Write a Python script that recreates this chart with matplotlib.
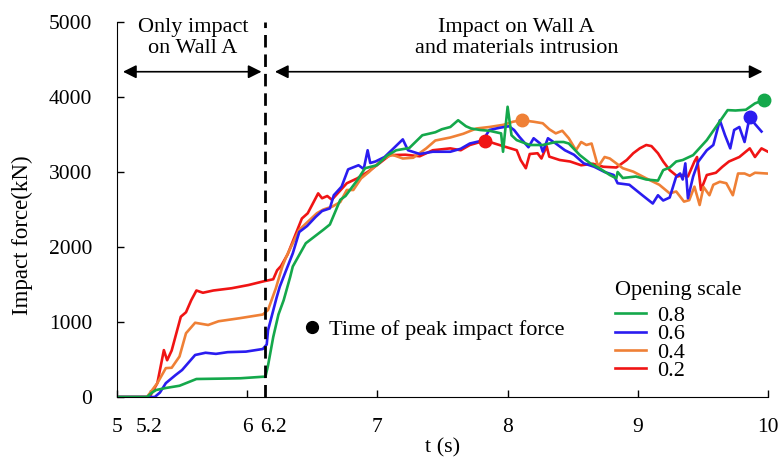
import matplotlib
matplotlib.use("Agg")
import matplotlib.pyplot as plt
from matplotlib.lines import Line2D

plt.rcParams["font.family"] = ["Liberation Serif", "DejaVu Serif"]
plt.rcParams["font.size"] = 15.5

# Opening scale 0.8
t_08 = [5.0, 5.23, 5.27, 5.30, 5.375, 5.48, 5.61, 5.8, 5.95, 6.12, 6.14, 6.16, 6.2, 6.24, 6.28,
        6.33, 6.35, 6.45, 6.585, 6.635, 6.715, 6.755, 6.845, 6.905, 6.995, 7.075, 7.145, 7.245,
        7.345, 7.445, 7.495, 7.56, 7.62, 7.68, 7.72, 7.79, 7.86, 7.95, 7.965, 8.0, 8.03, 8.07,
        8.17, 8.27, 8.37, 8.43, 8.47, 8.555, 8.635, 8.705, 8.785, 8.835, 8.845, 8.885, 8.985,
        9.065, 9.155, 9.195, 9.245, 9.295, 9.345, 9.425, 9.53, 9.6, 9.69, 9.75, 9.83, 9.9, 9.97]
f_08 = [0, 0, 60, 93, 120, 150, 240, 245, 250, 270, 270, 420, 800, 1100, 1290,
        1600, 1740, 2050, 2230, 2300, 2630, 2680, 2890, 3050, 3090, 3220, 3290, 3320,
        3490, 3530, 3570, 3600, 3690, 3610, 3580, 3560, 3550, 3515, 3270, 3870, 3490, 3425,
        3360, 3360, 3400, 3400, 3380, 3225, 3115, 3050, 2960, 2915, 3000, 2920, 2940,
        2900, 2885, 3025, 3060, 3140, 3160, 3225, 3425, 3600, 3825, 3820, 3830, 3915, 3960]

# Opening scale 0.6
t_06 = [5.0, 5.29, 5.33, 5.375, 5.45, 5.50, 5.60, 5.68, 5.76, 5.85, 5.99, 6.12, 6.15, 6.16,
        6.225, 6.25, 6.29, 6.35, 6.40, 6.46, 6.525, 6.575, 6.635, 6.665, 6.725, 6.775, 6.855,
        6.895, 6.925, 6.945, 6.985, 7.055, 7.115, 7.195, 7.235, 7.325, 7.425, 7.56, 7.64, 7.71,
        7.81, 7.86, 7.94, 8.01, 8.05, 8.09, 8.16, 8.2, 8.25, 8.27, 8.31, 8.37, 8.44, 8.51,
        8.585, 8.665, 8.745, 8.815, 8.845, 8.935, 9.035, 9.115, 9.155, 9.195, 9.245, 9.295,
        9.325, 9.345, 9.365, 9.385, 9.425, 9.465, 9.53, 9.58, 9.63, 9.67, 9.71, 9.74, 9.78,
        9.82, 9.86, 9.9, 9.95]
f_06 = [0, 0, 60, 185, 293, 360, 560, 590, 575, 598, 605, 640, 700, 890,
        1320, 1470, 1650, 1915, 2200, 2280, 2400, 2480, 2515, 2690, 2805, 3035, 3090,
        3040, 3290, 3120, 3140, 3200, 3300, 3435, 3290, 3240, 3270, 3270, 3310, 3380,
        3420, 3560, 3590, 3610, 3560, 3470, 3330, 3450, 3380, 3270, 3450, 3380, 3290, 3230,
        3115, 3070, 3000, 2960, 2850, 2830, 2690, 2580, 2690, 2620, 2660, 2940,
        2980, 2900, 3115, 2650, 2940, 3140, 3290, 3360, 3690, 3490, 3315, 3560, 3600,
        3400, 3740, 3640, 3540]

# Opening scale 0.4
t_04 = [5.0, 5.23, 5.31, 5.375, 5.42, 5.48, 5.53, 5.60, 5.70, 5.78, 5.94, 6.12, 6.16, 6.22,
        6.27, 6.30, 6.40, 6.535, 6.585, 6.655, 6.715, 6.765, 6.815, 6.875, 6.935, 7.045, 7.115,
        7.195, 7.275, 7.375, 7.445, 7.56, 7.66, 7.76, 7.86, 7.97, 8.04, 8.11, 8.2, 8.27, 8.32,
        8.37, 8.42, 8.47, 8.525, 8.565, 8.605, 8.645, 8.695, 8.745, 8.785, 8.835, 8.885, 8.965,
        9.065, 9.165, 9.245, 9.295, 9.355, 9.395, 9.435, 9.475, 9.505, 9.55, 9.58, 9.63, 9.68,
        9.73, 9.77, 9.82, 9.86, 9.9, 9.99]
f_04 = [0, 0, 185, 385, 390, 540, 850, 990, 960, 1010, 1050, 1100, 1160, 1450,
        1740, 1870, 2230, 2450, 2500, 2540, 2600, 2760, 2760, 2915, 3000, 3180, 3230,
        3180, 3190, 3315, 3420, 3460, 3510, 3580, 3600, 3630, 3670, 3690, 3670, 3650, 3570,
        3515, 3550, 3450, 3290, 3400, 3360, 3380, 3070, 3200, 3180, 3115, 3050, 3005,
        2915, 2830, 2715, 2740, 2605, 2625, 2805, 2560, 2800, 2690, 2830, 2870, 2850,
        2690, 2980, 2980, 2950, 2990, 2980]

# Opening scale 0.2
t_02 = [5.0, 5.25, 5.31, 5.36, 5.385, 5.42, 5.49, 5.53, 5.57, 5.61, 5.66, 5.74, 5.88, 6.01,
        6.12, 6.2, 6.23, 6.26, 6.31, 6.42, 6.465, 6.545, 6.575, 6.615, 6.65, 6.765, 6.845,
        6.925, 7.015, 7.095, 7.215, 7.325, 7.425, 7.56, 7.64, 7.71, 7.83, 7.9, 7.965, 8.07,
        8.1, 8.14, 8.17, 8.23, 8.26, 8.3, 8.32, 8.4, 8.48, 8.565, 8.655, 8.735, 8.835, 8.915,
        8.965, 9.015, 9.065, 9.105, 9.155, 9.195, 9.245, 9.305, 9.345, 9.385, 9.435, 9.455,
        9.485, 9.53, 9.6, 9.65, 9.7, 9.78, 9.86, 9.9, 9.95, 10.0]
f_02 = [0, 0, 185, 625, 490, 620, 1070, 1130, 1290, 1420, 1390, 1420, 1450, 1493,
        1540, 1570, 1690, 1747, 1900, 2380, 2450, 2715, 2650, 2680, 2630, 2850, 2915,
        3000, 3115, 3225, 3230, 3210, 3290, 3315, 3290, 3360, 3420, 3380, 3345, 3290,
        3160, 3050, 3240, 3250, 3180, 3345, 3205, 3160, 3140, 3090, 3110, 3070, 3060, 3160,
        3250, 3315, 3360, 3345, 3250, 3140, 3025, 2940, 2960, 2940, 3140, 3200,
        2760, 2960, 2990, 3070, 3140, 3200, 3315, 3200, 3315, 3270]

labels = ["0.8", "0.6", "0.4", "0.2"]
colors = ["#14a84b", "#2a1cf0", "#ef8036", "#f01414"]
times = [t_08, t_06, t_04, t_02]
forces = [f_08, f_06, f_04, f_02]

# time of peak impact force
peak_t = [9.97, 9.86, 8.11, 7.83]
peak_f = [3960, 3740, 3690, 3420]

t_split = 6.14
xticks = [5, 5.25, 6, 6.2, 7, 8, 9, 10]
xticklabels = ["5", "5.2", "6", "6.2", "7", "8", "9", "10"]

fig = plt.figure(figsize=(7.8, 4.57), dpi=100)
ax = fig.add_axes([117 / 780, 60 / 457, 651 / 780, 375 / 457])

for t, f, c in zip(times[::-1], forces[::-1], colors[::-1]):
    ax.plot(t, f, color=c, lw=1.9)
handles = [Line2D([], [], color=c, lw=1.9, label=lab) for c, lab in zip(colors, labels)]
for pt, pf, c in zip(peak_t, peak_f, colors):
    ax.plot(pt, pf, "o", color=c, ms=9, zorder=5, clip_on=False)

ax.axvline(t_split, color="black", lw=2, ls=(0, (4.5, 2.5)), zorder=6)

ax.set_xlim(5, 10)
ax.set_ylim(0, 5000)
ax.set_xticks(xticks)
ax.set_xticklabels(xticklabels)
ax.xaxis.get_major_ticks()[3].tick1line.set_visible(False)
ax.set_yticks(range(0, 5001, 1000))
ax.tick_params(direction="in", length=5, width=1, labelsize=15.5)
ax.tick_params(axis="y", pad=18)
ax.tick_params(axis="x", pad=15)
for s in ["top", "right"]:
    ax.spines[s].set_visible(False)
ax.set_xlabel("t (s)", fontsize=16, labelpad=1)
ax.set_ylabel("Impact force(kN)", fontsize=16.5)
ax.yaxis.set_label_coords(-0.129, 0.432)

# region annotations
arrow = dict(arrowstyle="<|-|>", color="black", lw=1.2, mutation_scale=20, shrinkA=0, shrinkB=0)
ax.annotate("", xy=(5.046, 4337), xytext=(6.11, 4337), arrowprops=arrow)
ax.annotate("", xy=(6.213, 4337), xytext=(9.958, 4337), arrowprops=arrow)
ax.text(5.583, 4787, "Only impact\non Wall A", ha="center", va="center",
        fontsize=16, linespacing=1.2, clip_on=False)
ax.text(8.07, 4787, "Impact on Wall A\nand materials intrusion", ha="center", va="center",
        fontsize=16, linespacing=1.2, clip_on=False)

leg = ax.legend(handles=handles, title="Opening scale", loc="upper left",
                bbox_to_anchor=(615 / 780, 1 - 281 / 457), bbox_transform=fig.transFigure,
                frameon=False, fontsize=16, title_fontsize=16, handlelength=1.4,
                handletextpad=0.5, labelspacing=-0.1, borderpad=0, borderaxespad=0,
                alignment="left")
leg._legend_box.sep = 4
ax.add_artist(leg)

peak_handle = Line2D([], [], ls="none", marker="o", color="black", ms=8.5,
                     label="Time of peak impact force")
ax.legend(handles=[peak_handle], loc="upper left",
          bbox_to_anchor=(301 / 780, 1 - 319 / 457), bbox_transform=fig.transFigure,
          frameon=False, fontsize=16, handlelength=1.0, handletextpad=0.25,
          borderpad=0, borderaxespad=0)

fig.savefig("out.png", dpi=100)
